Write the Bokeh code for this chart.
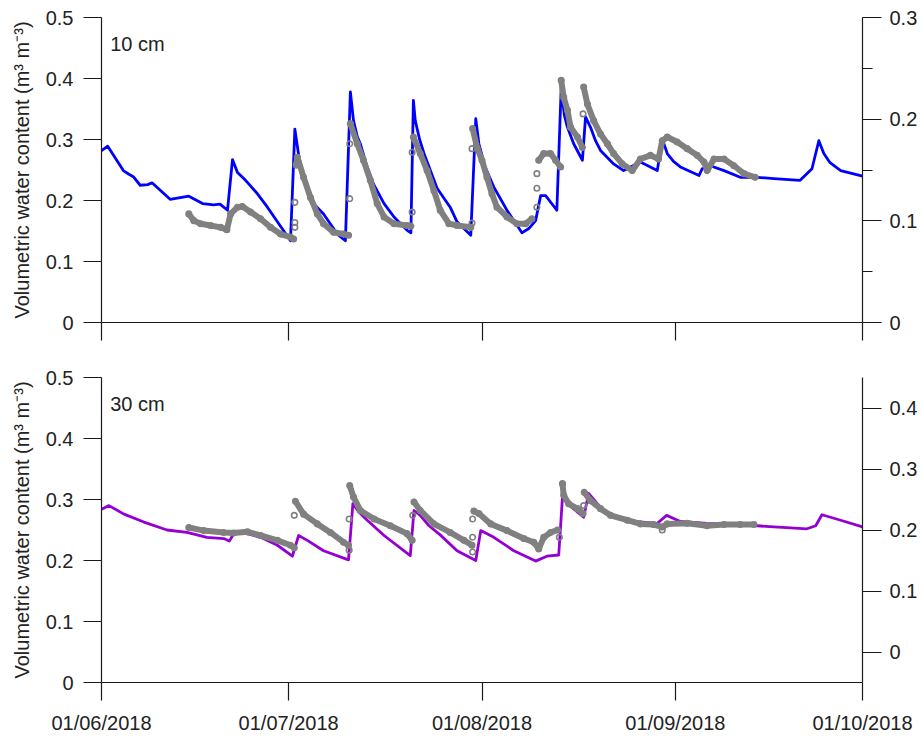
import numpy as np
from bokeh.plotting import figure
from bokeh.models import (ColumnDataSource, Range1d, LinearAxis, FixedTicker,
                          CustomJSTickFormatter, Label, DatetimeTickFormatter)
from bokeh.layouts import column
from bokeh.embed import file_html
from bokeh.resources import INLINE

nan = float("nan")

# ---------------- data (days since 01/06/2018) ----------------
x_tick_days = [0, 30, 61, 92, 122]

# 10 cm simulated (blue)
sim10_day = [0.0, 1.0, 3.5, 4.4, 5.1, 6.2, 7.4, 8.1, 11.0, 14.0, 16.2, 18.0, 19.0, 20.2,
             21.0, 21.8, 23.1, 25.0, 26.6, 30.3,
             31.0, 31.6, 32.5, 33.5, 35.6, 37.8, 39.1,
             39.9, 40.4, 41.0, 41.5, 42.5, 43.6, 45.3, 46.9, 49.0, 49.6,
             50.0, 50.3, 51.0, 51.7, 53.8, 55.9, 57.0, 59.2,
             60.0, 60.5, 61.5, 62.9, 65.0, 67.4, 68.5, 69.6, 70.4, 71.2, 73.0,
             73.7, 74.2, 74.7, 75.7, 77.1,
             77.6, 78.4, 79.2, 80.0, 82.1, 83.7, 86.4, 89.1,
             89.9, 90.7, 91.7, 92.8, 95.8, 96.3, 97.6, 99.8, 102.4, 105.1, 107.8, 112.0,
             113.9, 115.0, 115.8, 116.8, 118.5, 122.0]
sim10_val = [0.282, 0.289, 0.249, 0.243, 0.239, 0.225, 0.226, 0.229, 0.202, 0.207, 0.195, 0.193, 0.194, 0.184,
             0.267, 0.246, 0.233, 0.211, 0.189, 0.134,
             0.317, 0.275, 0.232, 0.200, 0.178, 0.145, 0.134,
             0.378, 0.331, 0.305, 0.293, 0.258, 0.227, 0.195, 0.173, 0.151, 0.147,
             0.364, 0.331, 0.300, 0.277, 0.220, 0.189, 0.165, 0.143,
             0.334, 0.293, 0.255, 0.222, 0.184, 0.147, 0.154, 0.167, 0.208, 0.208, 0.184,
             0.386, 0.340, 0.320, 0.293, 0.266,
             0.337, 0.320, 0.298, 0.282, 0.260, 0.249, 0.263, 0.249,
             0.301, 0.277, 0.264, 0.255, 0.241, 0.252, 0.257, 0.249, 0.238, 0.238, 0.236, 0.233,
             0.252, 0.298, 0.277, 0.262, 0.249, 0.240]

# 10 cm observed (grey); nan separates runs, single points are isolated readings
obs10_day = [14.0, 14.8, 15.9, 17.5, 19.1, 20.1, 20.7, 21.8, 22.6, 23.9, 25.5, 27.1, 28.7, 30.3, 30.8, nan,
             31.0, nan, 31.0, nan, 31.0, nan,
             31.2, 31.4, 32.4, 33.5, 34.6, 35.6, 37.2, 38.8, 39.6, nan,
             39.8, nan, 39.8, nan,
             39.9, 41.0, 42.0, 43.1, 44.2, 45.3, 46.9, 49.0, 49.6, nan,
             49.8, nan, 49.8, nan,
             50.0, 51.1, 52.2, 53.3, 54.3, 55.7, 57.0, 59.2, nan,
             59.4, nan, 59.4, nan,
             59.5, 60.2, 61.0, 61.8, 62.6, 63.4, 65.0, 66.6, 68.0, 69.0, nan,
             69.8, nan, 69.8, nan, 69.8, nan,
             70.1, 70.9, 72.0, 72.8, 73.6, nan,
             73.7, 74.1, 74.7, 75.2, 76.3, 77.1, nan,
             77.2, nan,
             77.3, 77.9, 78.9, 80.0, 81.1, 82.1, 83.5, 85.1, 86.4, 88.0, 89.3, 89.9, 90.7,
             92.3, 93.9, 95.5, 96.6, 97.1, 98.2, 99.8, 101.4, 103.0, 104.8]
obs10_val = [0.178, 0.167, 0.162, 0.159, 0.156, 0.152, 0.178, 0.189, 0.190, 0.181, 0.170, 0.156, 0.145, 0.140, 0.137, nan,
             0.156, nan, 0.164, nan, 0.197, nan,
             0.258, 0.271, 0.238, 0.205, 0.178, 0.162, 0.148, 0.145, 0.143, nan,
             0.203, nan, 0.293, nan,
             0.326, 0.293, 0.266, 0.233, 0.195, 0.173, 0.162, 0.159, 0.158, nan,
             0.181, nan, 0.279, nan,
             0.304, 0.277, 0.249, 0.216, 0.184, 0.162, 0.159, 0.156, nan,
             0.163, nan, 0.285, nan,
             0.318, 0.287, 0.266, 0.238, 0.211, 0.189, 0.173, 0.162, 0.162, 0.170, nan,
             0.189, nan, 0.220, nan, 0.244, nan,
             0.266, 0.277, 0.277, 0.266, 0.255, nan,
             0.397, 0.369, 0.348, 0.320, 0.304, 0.287, nan,
             0.342, nan,
             0.386, 0.358, 0.331, 0.309, 0.293, 0.277, 0.260, 0.249, 0.268, 0.274, 0.268, 0.298, 0.304,
             0.296, 0.285, 0.274, 0.263, 0.249, 0.268, 0.268, 0.257, 0.244, 0.238]

# 30 cm simulated (purple)
sim30_day = [0.0, 1.2, 3.6, 6.8, 10.5, 13.7, 16.9, 19.6, 20.5, 21.2, 22.3, 25.5, 28.2, 30.6,
             31.6, 33.0, 35.6, 39.6,
             40.3, 41.3, 42.6, 45.3, 49.5,
             50.1, 51.1, 52.5, 54.3, 57.0, 60.0,
             60.8, 62.9, 66.1, 69.6, 71.4, 73.3,
             73.9, 74.7, 77.3,
             78.1, 80.0, 82.1, 85.3, 89.1, 90.6, 92.8, 97.1, 102.4, 107.8, 113.1,
             114.5, 115.5, 118.5, 122.0]
sim30_val = [0.284, 0.290, 0.276, 0.263, 0.250, 0.246, 0.238, 0.236, 0.232, 0.244, 0.247, 0.238, 0.225, 0.207,
             0.241, 0.233, 0.216, 0.201,
             0.293, 0.279, 0.266, 0.241, 0.208,
             0.282, 0.274, 0.257, 0.242, 0.216, 0.200,
             0.249, 0.238, 0.216, 0.199, 0.207, 0.209,
             0.304, 0.293, 0.271,
             0.310, 0.287, 0.271, 0.264, 0.261, 0.274, 0.264, 0.261, 0.259, 0.255, 0.252,
             0.257, 0.275, 0.266, 0.255]

# 30 cm observed (grey)
obs30_day = [14.0, 16.4, 19.6, 21.2, 23.4, 25.5, 28.2, 30.3, 30.9, nan,
             30.9, nan,
             31.1, 32.4, 34.6, 36.7, 38.8, 39.6, nan,
             39.7, nan, 39.7, nan,
             39.8, 40.4, 41.5, 43.7, 46.3, 49.0, 49.8, nan,
             49.9, nan,
             50.1, 51.1, 53.3, 55.9, 58.1, 59.4, nan,
             59.5, nan, 59.5, nan, 59.5, nan,
             59.7, 60.5, 62.4, 65.0, 67.7, 69.3, 70.1, 70.9, 72.0, 73.1, nan,
             73.4, nan,
             73.9, 74.1, 74.9, 76.3, 77.2, nan,
             77.3, nan,
             77.4, 78.4, 80.0, 81.6, 84.3, 86.4, 88.5, 89.9, 90.7, 93.9, 97.1, 99.8, 102.4, 104.6, nan,
             89.9]
obs30_val = [0.254, 0.249, 0.246, 0.245, 0.247, 0.241, 0.233, 0.225, 0.221, nan,
             0.274, nan,
             0.297, 0.276, 0.260, 0.246, 0.230, 0.225, nan,
             0.268, nan, 0.217, nan,
             0.323, 0.304, 0.282, 0.268, 0.257, 0.244, 0.233, nan,
             0.274, nan,
             0.296, 0.282, 0.260, 0.246, 0.233, 0.225, nan,
             0.238, nan, 0.268, nan, 0.214, nan,
             0.281, 0.277, 0.260, 0.249, 0.236, 0.230, 0.219, 0.238, 0.246, 0.250, nan,
             0.238, nan,
             0.326, 0.307, 0.293, 0.285, 0.277, nan,
             0.290, nan,
             0.312, 0.298, 0.285, 0.274, 0.266, 0.260, 0.259, 0.255, 0.260, 0.261, 0.257, 0.259, 0.259, 0.259, nan,
             0.250]

left_ticks = [0, 0.1, 0.2, 0.3, 0.4, 0.5]
right10_ticks = [0, 0.1, 0.2, 0.3]
right10_minor = [0.05, 0.15, 0.25]
right30_ticks = [0, 0.1, 0.2, 0.3, 0.4]

# ---------------- helpers ----------------
DAY_MS = 86400000.0
START_MS = 1527811200000.0  # 2018-06-01 00:00 UTC


def to_ms(days):
    return np.asarray(days, dtype=float) * DAY_MS + START_MS


FONT = "Liberation Sans"
FS = "20px"
AX_COL = "#1a1a1a"
GREY = "#808080"

num_fmt = CustomJSTickFormatter(code="return tick === 0 ? '0' : tick.toFixed(1);")


def style_axis(ax):
    ax.axis_line_color = AX_COL
    ax.axis_line_width = 1.2
    ax.major_tick_line_color = AX_COL
    ax.major_tick_line_width = 1.2
    ax.minor_tick_line_color = AX_COL
    ax.minor_tick_line_width = 1.2
    ax.major_tick_in = 0
    ax.major_tick_out = 18
    ax.minor_tick_in = 0
    ax.minor_tick_out = 10
    ax.major_label_text_font = FONT
    ax.major_label_text_font_size = FS
    ax.major_label_text_color = "#222222"
    ax.axis_label_text_font = FONT
    ax.axis_label_text_font_size = FS
    ax.axis_label_text_font_style = "normal"
    ax.axis_label_text_color = "#222222"


def make_panel(height, top, bottom, sim_day, sim_val, sim_color, obs_day, obs_val,
               right_range, right_ticks, right_minor, depth_text, show_x_labels):
    p = figure(width=923, height=height, x_axis_type="datetime",
               x_range=Range1d(to_ms([0])[0], to_ms([122])[0]),
               y_range=Range1d(0, 0.5),
               output_backend="svg", toolbar_location=None,
               min_border_left=101, min_border_right=61,
               min_border_top=top, min_border_bottom=bottom)
    p.grid.visible = False
    p.outline_line_color = None
    p.background_fill_color = "white"
    p.border_fill_color = "white"

    # x axis
    xa = p.xaxis[0]
    xa.ticker = FixedTicker(ticks=list(to_ms(x_tick_days)), minor_ticks=[])
    if show_x_labels:
        xa.formatter = DatetimeTickFormatter(days="%d/%m/%Y", months="%d/%m/%Y",
                                             years="%d/%m/%Y", hours="%d/%m/%Y")
    else:
        xa.formatter = CustomJSTickFormatter(code="return '';")
    style_axis(xa)
    xa.major_label_standoff = 11

    # left axis
    ya = p.yaxis[0]
    ya.ticker = FixedTicker(ticks=left_ticks, minor_ticks=[])
    ya.formatter = num_fmt
    ya.axis_label = "Volumetric water content (m³ m⁻³)"
    style_axis(ya)
    ya.major_label_standoff = 10
    ya.axis_label_standoff = 10

    # right axis
    p.extra_y_ranges = {"right": Range1d(*right_range)}
    ra = LinearAxis(y_range_name="right",
                    ticker=FixedTicker(ticks=right_ticks, minor_ticks=right_minor),
                    formatter=num_fmt)
    style_axis(ra)
    ra.major_tick_out = 19
    ra.minor_tick_out = 10
    ra.major_label_standoff = 8
    p.add_layout(ra, "right")

    sim = ColumnDataSource(dict(x=to_ms(sim_day), y=sim_val))
    p.line("x", "y", source=sim, line_color=sim_color, line_width=2.8,
           line_join="round")

    obs = ColumnDataSource(dict(x=to_ms(obs_day), y=obs_val))
    p.line("x", "y", source=obs, line_color=GREY, line_width=6, line_join="round",
           line_cap="round")
    p.scatter("x", "y", source=obs, marker="circle", size=5.5, fill_alpha=0,
              line_color=GREY, line_width=1.6)

    lab = Label(x=to_ms([1.4])[0], y=0.457, text=depth_text,
                text_font=FONT, text_font_size=FS, text_color="#222222",
                text_baseline="alphabetic")
    p.add_layout(lab)
    return p


p1 = make_panel(350, 17, 28, sim10_day, sim10_val, "#0000ff", obs10_day, obs10_val,
                (0, 0.3), right10_ticks, right10_minor, "10 cm", False)
p2 = make_panel(387, 27, 55, sim30_day, sim30_val, "#9400d3", obs30_day, obs30_val,
                (-0.05, 0.45), right30_ticks, [], "30 cm", True)

layout = column(p1, p2, spacing=0)
open("out.html", "w").write(file_html(layout, INLINE))
